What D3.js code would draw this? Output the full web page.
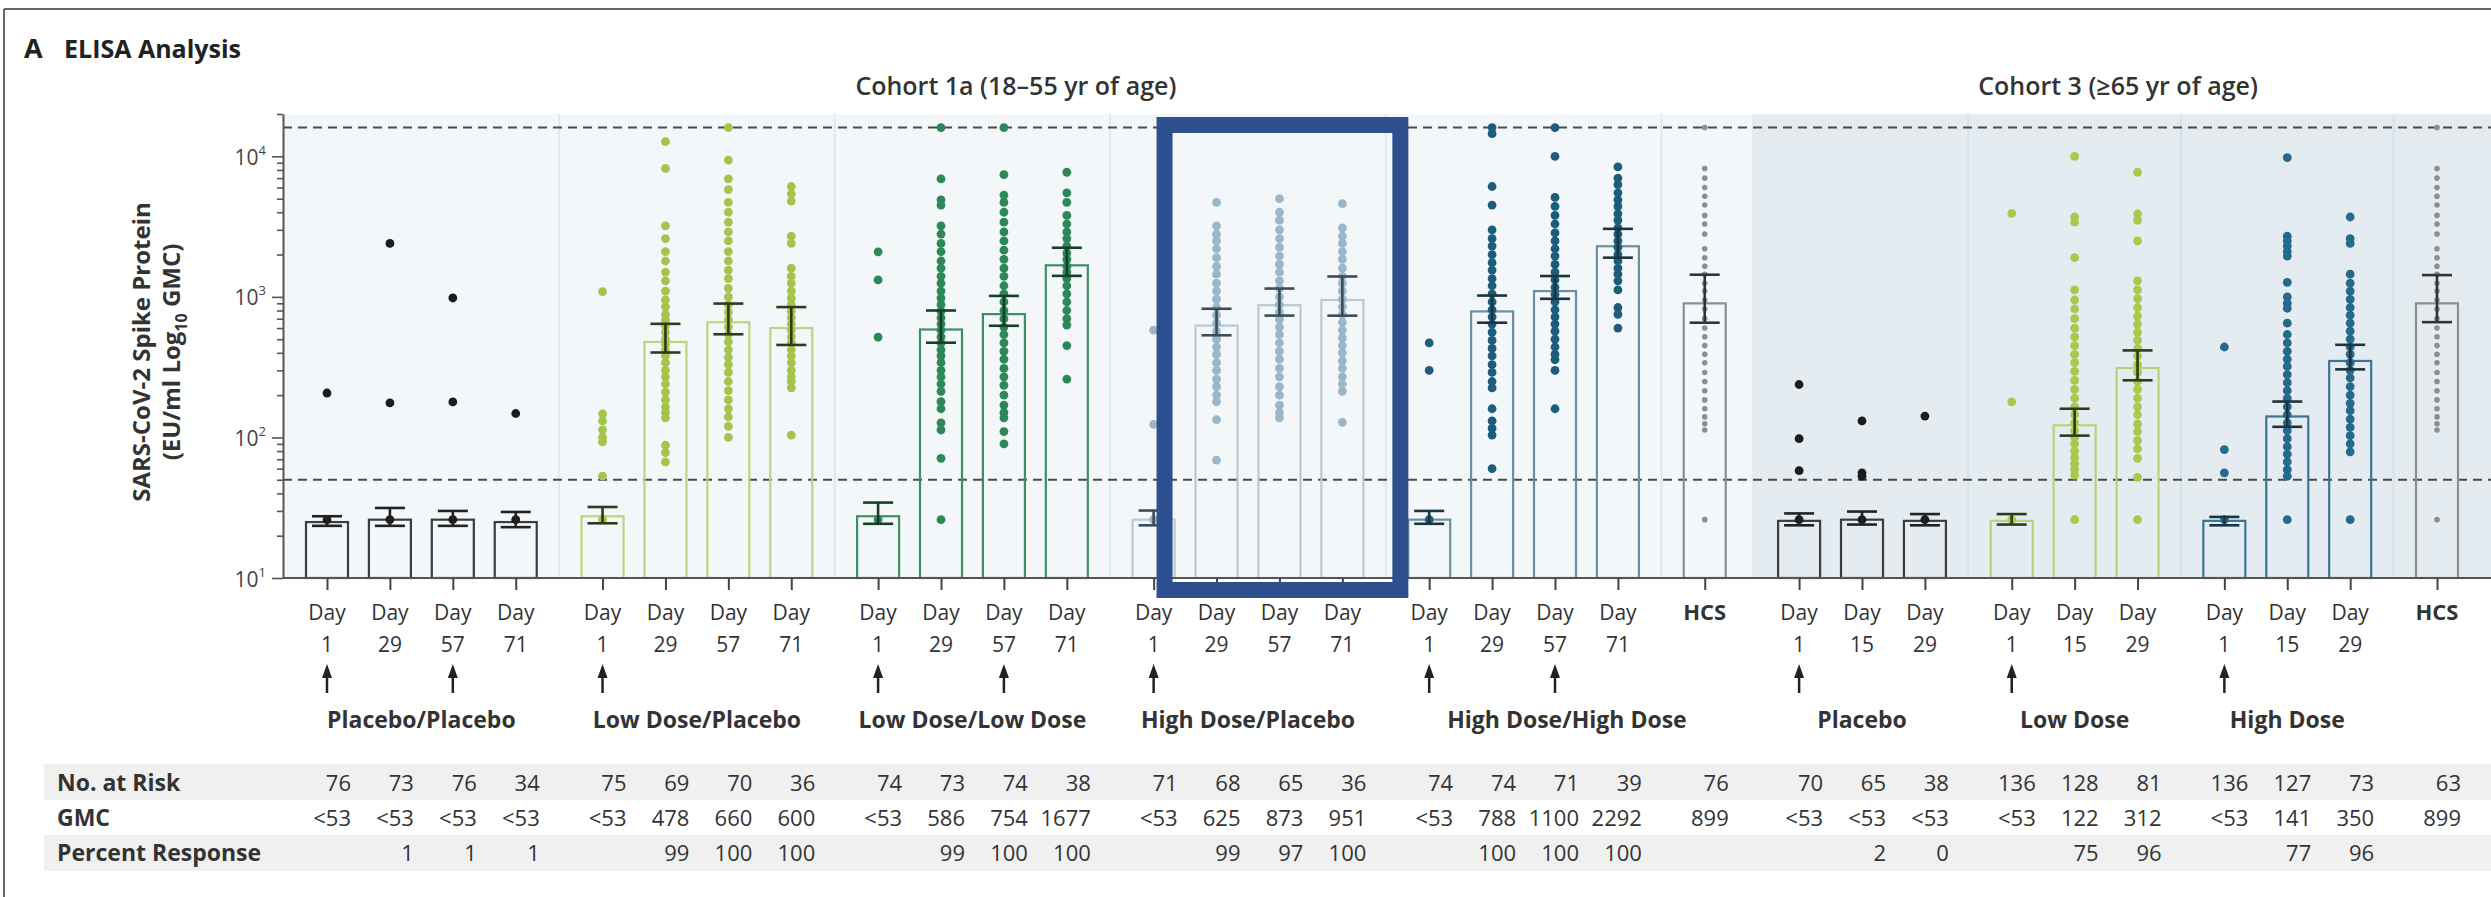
<!DOCTYPE html>
<html>
<head>
<meta charset="utf-8">
<script src="https://cdn.jsdelivr.net/npm/d3@7"></script>
<style>
  body { margin: 0; background: #fff; }
  svg { display: block; }
  text { font-family: "Open Sans", "DejaVu Sans", sans-serif; fill: #333; }
</style>
</head>
<body>
<svg width="2491" height="897"></svg>
<script>
// groups, left to right
const groupNames = ["Placebo/Placebo", "Low Dose/Placebo", "Low Dose/Low Dose", "High Dose/Placebo",
  "High Dose/High Dose", "HCS", "Placebo", "Low Dose", "High Dose", "HCS"];
const groupDays = [["1", "29", "57", "71"], ["1", "29", "57", "71"], ["1", "29", "57", "71"], ["1", "29", "57", "71"],
  ["1", "29", "57", "71"], ["HCS"], ["1", "15", "29"], ["1", "15", "29"], ["1", "15", "29"], ["HCS"]];
const groupCohort = [1, 1, 1, 1, 1, 1, 3, 3, 3, 3];
const arrowDays = [["1", "57"], ["1"], ["1", "57"], ["1"], ["1", "57"], [], ["1"], ["1"], ["1"], []];
const cohortTitles = ["Cohort 1a (18\u201355 yr of age)", "Cohort 3 (\u226565 yr of age)"];

// one value per column
const gmcValues = [25, 26, 26, 25, 27.5, 478, 660, 600, 27.5, 586, 754, 1677, 26, 625, 873, 951,
  26, 788, 1100, 2292, 899, 25.5, 26, 25.5, 25.5, 122, 312, 25.5, 141, 350, 899];
const ciLower = [23.5, 23.5, 23.5, 23, 24.5, 402, 542, 455, 24.3, 472, 623, 1411, 23.7, 533, 736, 735,
  24.3, 655, 969, 1901, 655, 23.7, 24, 23.7, 24, 103, 255, 23.7, 119, 305, 661];
const ciUpper = [27.5, 31.5, 30, 29.5, 32, 643, 896, 846, 34.4, 800, 1016, 2236, 30.2, 823, 1146, 1397,
  30, 1022, 1407, 3048, 1438, 28.8, 29.7, 28.5, 28.5, 160, 416, 27.2, 180, 456, 1429];

const noAtRisk = ["76", "73", "76", "34", "75", "69", "70", "36", "74", "73", "74", "38", "71", "68", "65", "36",
  "74", "74", "71", "39", "76", "70", "65", "38", "136", "128", "81", "136", "127", "73", "63"];
const gmcText = ["<53", "<53", "<53", "<53", "<53", "478", "660", "600", "<53", "586", "754", "1677", "<53", "625", "873", "951",
  "<53", "788", "1100", "2292", "899", "<53", "<53", "<53", "<53", "122", "312", "<53", "141", "350", "899"];
const percentResponse = ["", "1", "1", "1", "", "99", "100", "100", "", "99", "100", "100", "", "99", "97", "100",
  "", "100", "100", "100", "", "", "2", "0", "", "75", "96", "", "77", "96", ""];
const tableRows = ["No. at Risk", "GMC", "Percent Response"];

// individual participants (EU/ml)
const pointsPlaceboPlacebo = [[207, 26], [2400, 176, 26], [982, 179, 26], [148, 26]];
const pointsLowPlacebo = [
  [1090, 147, 131, 113, 100, 93, 53, 26],
  [12700, 8200, 3200, 2600, 2100, 1800, 1500, 1300, 1100, 950, 850, 750, 680, 620, 560, 500, 460, 420, 380, 340, 300, 270, 240, 210, 185, 165, 150, 138, 88, 78, 67],
  [16000, 9400, 6900, 5800, 4700, 4000, 3400, 2900, 2500, 2100, 1800, 1550, 1350, 1150, 1000, 880, 780, 690, 610, 540, 480, 420, 370, 330, 290, 250, 215, 185, 160, 140, 120, 100],
  [6100, 5400, 4800, 2700, 2400, 1600, 1400, 1250, 1100, 980, 880, 790, 710, 640, 580, 520, 470, 420, 380, 340, 300, 270, 250, 225, 104]
];
const pointsLowLow = [
  [2090, 1320, 518, 26],
  [16000, 6900, 4900, 4500, 3200, 2800, 2400, 2100, 1800, 1600, 1400, 1250, 1100, 980, 880, 790, 710, 640, 580, 520, 470, 420, 380, 340, 300, 270, 240, 213, 180, 160, 127, 113, 71, 26],
  [16000, 7400, 5300, 4700, 4000, 3400, 2900, 2500, 2150, 1850, 1600, 1400, 1200, 1050, 920, 800, 700, 610, 540, 470, 410, 360, 310, 270, 235, 200, 170, 150, 138, 110, 90],
  [7700, 5500, 4700, 3800, 3300, 2900, 2600, 2300, 2050, 1850, 1650, 1500, 1350, 1200, 1050, 920, 800, 700, 630, 450, 260]
];
const pointsHighPlacebo = [
  [580, 124, 26],
  [4700, 3200, 2800, 2500, 2200, 1900, 1650, 1450, 1250, 1100, 960, 840, 740, 650, 570, 500, 440, 390, 340, 300, 260, 230, 200, 180, 134, 69],
  [5000, 4000, 3500, 3000, 2600, 2250, 1950, 1700, 1500, 1300, 1150, 1000, 880, 780, 690, 610, 540, 470, 410, 360, 310, 270, 230, 200, 170, 150, 138],
  [4600, 3100, 2700, 2400, 2100, 1850, 1600, 1400, 1250, 1100, 960, 850, 750, 660, 580, 510, 450, 400, 350, 310, 270, 240, 213, 128]
];
const pointsHighHigh = [
  [470, 300, 26],
  [16000, 14500, 6100, 4500, 3000, 2600, 2300, 2000, 1750, 1550, 1350, 1200, 1050, 920, 810, 720, 640, 560, 490, 430, 380, 330, 290, 250, 225, 160, 131, 116, 104, 60],
  [16000, 10000, 5100, 4400, 3800, 3300, 2850, 2500, 2200, 1950, 1700, 1500, 1320, 1170, 1040, 920, 810, 720, 640, 570, 500, 440, 390, 357, 300, 160],
  [8400, 7000, 6300, 5500, 4900, 4400, 3900, 3500, 3100, 2800, 2500, 2250, 2000, 1800, 1600, 1450, 1300, 1120, 840, 750, 600]
];
const pointsHCS = [16000, 8200, 7000, 6000, 5200, 4500, 3800, 3300, 2800, 2200, 1900, 1650, 1450, 1250, 1100, 950,
  820, 700, 600, 520, 450, 390, 340, 290, 250, 215, 185, 160, 140, 125, 113, 26];
const pointsOldPlacebo = [[238, 98, 58, 26], [131, 56, 53, 26], [142, 26]];
const pointsOldLow = [
  [3930, 179, 26],
  [10000, 3700, 3400, 1900, 1120, 950, 820, 700, 600, 520, 450, 390, 340, 295, 255, 220, 190, 165, 145, 127, 112, 100, 90, 80, 72, 65, 59, 54, 26],
  [7700, 3900, 3500, 2500, 1300, 1120, 970, 840, 730, 640, 560, 490, 430, 380, 330, 290, 250, 220, 190, 165, 145, 125, 110, 95, 83, 71, 52, 26]
];
const pointsOldHigh = [
  [440, 82, 56, 26],
  [9800, 2700, 2500, 2300, 2100, 1950, 1270, 1000, 900, 830, 650, 540, 470, 410, 360, 320, 280, 245, 215, 190, 165, 145, 127, 112, 98, 86, 76, 67, 59, 53, 26],
  [3700, 2600, 2400, 1450, 1250, 1100, 960, 840, 740, 650, 570, 500, 440, 390, 340, 300, 265, 230, 200, 175, 155, 135, 118, 103, 90, 79, 26]
];

const uloq = 16000, lloq = 50;

const dotColor = ["#1c1c1c", "#a4c44c", "#2d8756", "#9ab6c8", "#1d5d7c", "#8e8e8e", "#1c1c1c", "#a8c94e", "#236a8c", "#8e8e8e"];
const barColor = ["#3c3c3c", "#bcd47e", "#3f8e63", "#b7cad6", "#6c8fa1", "#8e8e8e", "#3c3c3c", "#b8d27a", "#3a7594", "#8e8e8e"];
const errColor = ["#222", "#2f3b18", "#173f28", "#3a4d5a", "#1b3442", "#333", "#222", "#2f3b18", "#1b3442", "#333"];

const allPoints = [...pointsPlaceboPlacebo, ...pointsLowPlacebo, ...pointsLowLow, ...pointsHighPlacebo,
  ...pointsHighHigh, pointsHCS, ...pointsOldPlacebo, ...pointsOldLow, ...pointsOldHigh, pointsHCS];

// column positions: 1 unit inside a group, wider gaps between groups and cohorts
let slot = 0;
const cols = [];
groupNames.forEach((name, g) => {
  if (g > 0) slot += groupCohort[g] !== groupCohort[g - 1] ? 1.5 : 1.38;
  groupDays[g].forEach((day, i) => {
    if (i > 0) slot += 1;
    cols.push({ group: g, day: day, slot: slot, arrow: arrowDays[g].includes(day) });
  });
});
cols.forEach((c, i) => {
  c.gmc = gmcValues[i]; c.lo = ciLower[i]; c.hi = ciUpper[i]; c.points = allPoints[i];
});

const svg = d3.select("svg");
const plotLeft = 283, plotRight = 2491;
const x = d3.scaleLinear().domain([0, slot]).range([327, 2437]);
const y = d3.scaleLog().domain([10, 20000]).range([578, 114]);
const barW = 42;

// frame
svg.append("line").attr("x1", 4).attr("x2", 4).attr("y1", 9).attr("y2", 897).attr("stroke", "#666").attr("stroke-width", 2);
svg.append("line").attr("x1", 4).attr("x2", 2491).attr("y1", 9).attr("y2", 9).attr("stroke", "#666").attr("stroke-width", 2);

svg.append("text").attr("x", 24).attr("y", 58).style("font-size", "27px").style("font-weight", 700).style("fill", "#222").text("A");
svg.append("text").attr("x", 64).attr("y", 58).style("font-size", "25px").style("font-weight", 700).style("fill", "#222").text("ELISA Analysis");

// backgrounds
const firstC3 = cols.findIndex(c => groupCohort[c.group] === 3);
const cohortSplit = (x(cols[firstC3 - 1].slot) + x(cols[firstC3].slot)) / 2;
svg.append("rect").attr("x", plotLeft).attr("y", y(20000)).attr("width", cohortSplit - plotLeft)
  .attr("height", y(10) - y(20000)).attr("fill", "#f3f7fa");
svg.append("rect").attr("x", cohortSplit).attr("y", y(20000)).attr("width", plotRight - cohortSplit)
  .attr("height", y(10) - y(20000)).attr("fill", "#e5ecf1");

// separators between groups
for (let i = 1; i < cols.length; i++) {
  if (cols[i].group !== cols[i - 1].group && i !== firstC3) {
    const sx = (x(cols[i - 1].slot) + x(cols[i].slot)) / 2;
    svg.append("line").attr("x1", sx).attr("x2", sx).attr("y1", y(20000)).attr("y2", y(10))
      .attr("stroke", groupCohort[cols[i].group] === 3 ? "#d7e1e8" : "#e0e8ee").attr("stroke-width", 2);
  }
}

// cohort titles
[1, 3].forEach((coh, k) => {
  const cc = cols.filter(c => groupCohort[c.group] === coh);
  svg.append("text").attr("x", (x(cc[0].slot) + x(cc[cc.length - 1].slot)) / 2).attr("y", 95)
    .attr("text-anchor", "middle").style("font-size", "25px").style("font-weight", 600)
    .text(cohortTitles[k]);
});

// limit lines
[uloq, lloq].forEach(v => {
  svg.append("line").attr("x1", plotLeft).attr("x2", plotRight).attr("y1", y(v)).attr("y2", y(v))
    .attr("stroke", "#4a4a4a").attr("stroke-width", 2).attr("stroke-dasharray", "9,6");
});

// bars
svg.selectAll(".bar").data(cols).join("rect").attr("class", "bar")
  .attr("x", d => x(d.slot) - barW / 2).attr("width", barW)
  .attr("y", d => y(d.gmc)).attr("height", d => y(10) - y(d.gmc))
  .attr("fill", "none").attr("stroke", d => barColor[d.group]).attr("stroke-width", 2.2);

// participant dots
cols.forEach(c => {
  const hcs = groupNames[c.group] === "HCS";
  svg.append("g").selectAll("circle").data(c.points).join("circle")
    .attr("cx", x(c.slot)).attr("cy", d => y(d))
    .attr("r", hcs ? 2.8 : 4.4)
    .attr("fill", dotColor[c.group]);
});

// GMC 95% CI
const err = svg.append("g");
cols.forEach(c => {
  const cx = x(c.slot), col = errColor[c.group];
  err.append("line").attr("x1", cx).attr("x2", cx).attr("y1", y(c.lo)).attr("y2", y(c.hi)).attr("stroke", col).attr("stroke-width", 2.6);
  [c.lo, c.hi].forEach(v => {
    err.append("line").attr("x1", cx - 15).attr("x2", cx + 15).attr("y1", y(v)).attr("y2", y(v)).attr("stroke", col).attr("stroke-width", 2.6);
  });
});

// y axis
const yAxis = svg.append("g").attr("transform", `translate(${plotLeft},0)`)
  .call(d3.axisLeft(y).tickValues(y.ticks()).tickFormat("").tickSizeOuter(0));
const isMajor = d => Math.abs(Math.log10(d) - Math.round(Math.log10(d))) < 1e-9;
yAxis.select(".domain").attr("stroke", "#555").attr("stroke-width", 2);
yAxis.selectAll(".tick line").attr("stroke", "#555").attr("stroke-width", 1.6).attr("x2", d => isMajor(d) ? -11 : -6);
yAxis.selectAll(".tick").filter(d => isMajor(d)).each(function (d) {
  const t = d3.select(this).append("text").attr("x", -17).attr("y", 8).attr("text-anchor", "end")
    .style("font-size", "21px").style("fill", "#444");
  t.append("tspan").text("10");
  t.append("tspan").attr("dy", -10).style("font-size", "13px").text(Math.round(Math.log10(d)));
});

const yTitle = svg.append("text").attr("transform", `translate(150,352) rotate(-90)`)
  .attr("text-anchor", "middle").style("font-size", "24px").style("font-weight", 700);
yTitle.append("tspan").attr("x", 0).attr("y", 0).text("SARS-CoV-2 Spike Protein");
yTitle.append("tspan").attr("x", 0).attr("y", 30).text("(EU/ml Log");
yTitle.append("tspan").attr("dy", 7).style("font-size", "16px").text("10");
yTitle.append("tspan").attr("dy", -7).text(" GMC)");

// x axis
svg.append("line").attr("x1", plotLeft).attr("x2", plotRight).attr("y1", y(10)).attr("y2", y(10))
  .attr("stroke", "#555").attr("stroke-width", 2);
const xAxis = svg.append("g").attr("transform", `translate(0,${y(10)})`)
  .call(d3.axisBottom(x).tickValues(cols.map(c => c.slot)).tickFormat("").tickSize(12));
xAxis.select(".domain").remove();
xAxis.selectAll(".tick line").attr("stroke", "#444").attr("stroke-width", 2);

cols.forEach(c => {
  const cx = x(c.slot);
  if (c.day === "HCS") {
    svg.append("text").attr("x", cx).attr("y", 620).attr("text-anchor", "middle")
      .style("font-size", "22px").style("font-weight", 700).text("HCS");
  } else {
    svg.append("text").attr("x", cx).attr("y", 620).attr("text-anchor", "middle").style("font-size", "21px").text("Day");
    svg.append("text").attr("x", cx).attr("y", 652).attr("text-anchor", "middle").style("font-size", "21px").text(c.day);
  }
  if (c.arrow) {
    svg.append("line").attr("x1", cx).attr("x2", cx).attr("y1", 693).attr("y2", 672).attr("stroke", "#222").attr("stroke-width", 2.5);
    svg.append("path").attr("d", `M${cx - 5},678 L${cx + 5},678 L${cx},664 Z`).attr("fill", "#222");
  }
});

// group labels (High Dose/High Dose is centred across its HCS column)
groupNames.forEach((name, g) => {
  if (name === "HCS") return;
  let gc = cols.filter(c => c.group === g);
  if (g === 4) gc = gc.concat(cols.filter(c => c.group === 5));
  svg.append("text").attr("x", (x(gc[0].slot) + x(gc[gc.length - 1].slot)) / 2).attr("y", 728)
    .attr("text-anchor", "middle").style("font-size", "23px").style("font-weight", 700).text(name);
});

// table
const rowY = [791, 826, 861];
svg.append("rect").attr("x", 44).attr("y", 764).attr("width", 2447).attr("height", 36).attr("fill", "#f0f0f0");
svg.append("rect").attr("x", 44).attr("y", 835).attr("width", 2447).attr("height", 36).attr("fill", "#f0f0f0");
tableRows.forEach((r, i) => {
  svg.append("text").attr("x", 57).attr("y", rowY[i]).style("font-size", "23px").style("font-weight", 700).text(r);
});
[noAtRisk, gmcText, percentResponse].forEach((row, i) => {
  svg.append("g").selectAll("text").data(cols).join("text")
    .attr("x", d => x(d.slot) + 24).attr("y", rowY[i]).attr("text-anchor", "end")
    .style("font-size", "22px").text((d, j) => row[j]);
});

// highlight box around High Dose/Placebo days 29-71
const boxCols = cols.filter(c => c.group === 3 && c.day !== "1");
svg.append("rect")
  .attr("x", x(boxCols[0].slot) - 52).attr("y", y(20000) + 11)
  .attr("width", x(boxCols[boxCols.length - 1].slot) + 58 - (x(boxCols[0].slot) - 52))
  .attr("height", y(10) + 12 - (y(20000) + 11))
  .attr("fill", "none").attr("stroke", "#2d4f8e").attr("stroke-width", 16);
</script>
</body>
</html>
